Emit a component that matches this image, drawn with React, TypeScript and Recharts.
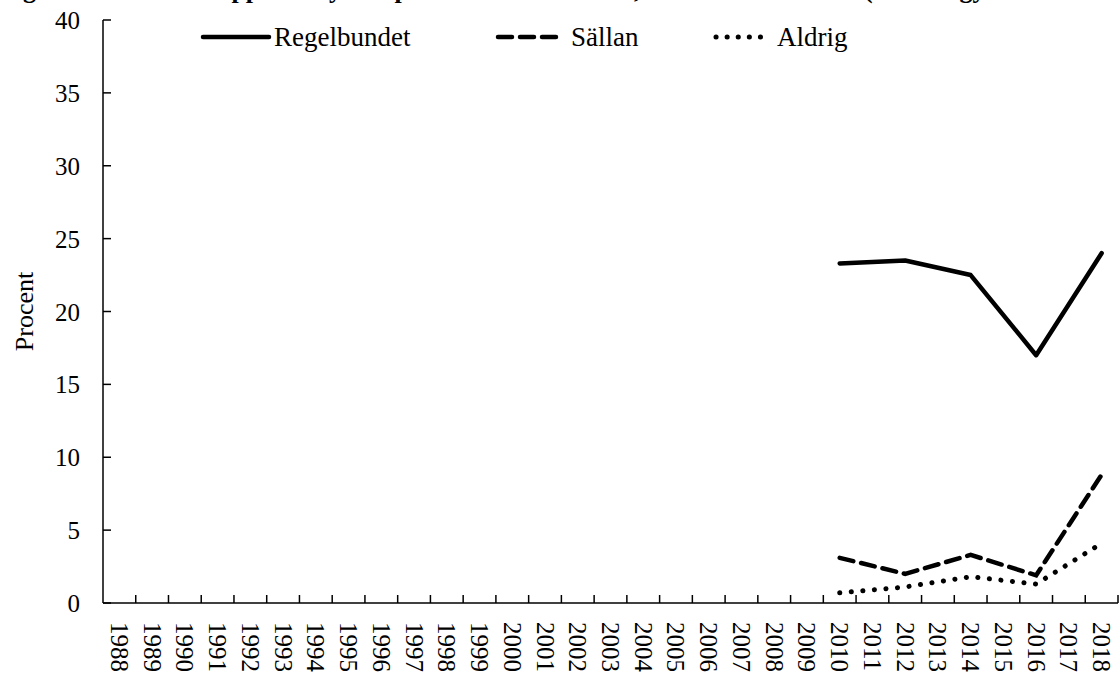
import React from 'react';
import { LineChart, Line, XAxis, YAxis } from 'recharts';

const yearLabels = [
  1988, 1989, 1990, 1991, 1992, 1993, 1994, 1995, 1996, 1997, 1998, 1999, 2000,
  2001, 2002, 2003, 2004, 2005, 2006, 2007, 2008, 2009, 2010, 2011, 2012, 2013,
  2014, 2015, 2016, 2017, 2018,
];
const surveyYears = [2010, 2012, 2014, 2016, 2018];
const regelbundet = [23.3, 23.5, 22.5, 17.0, 24.0];
const sallan = [3.1, 2.0, 3.3, 1.9, 8.8];
const aldrig = [0.7, 1.1, 1.8, 1.3, 4.1];
const yTicks = [0, 5, 10, 15, 20, 25, 30, 35, 40];

const data = surveyYears.map((year, i) => ({
  year,
  regelbundet: regelbundet[i],
  sallan: sallan[i],
  aldrig: aldrig[i],
}));

const W = 1119;
const H = 677;
const PLOT_LEFT = 103;
const PLOT_RIGHT = 1;
const BAND = (W - PLOT_LEFT - PLOT_RIGHT) / yearLabels.length;
const FONT = '"Liberation Serif", "Times New Roman", serif';

const XTick = (props: any) => {
  const { x, y, payload } = props;
  const bx = x + BAND / 2;
  return (
    <g>
      <line x1={bx} y1={y} x2={bx} y2={y - 8} stroke="#000" strokeWidth={1.5} />
      <text
        x={x}
        y={y + 19}
        transform={`rotate(90, ${x}, ${y + 19})`}
        textAnchor="start"
        dominantBaseline="central"
        fontFamily={FONT}
        fontSize={25}
        fill="#000"
      >
        {payload.value}
      </text>
    </g>
  );
};

const YTick = (props: any) => {
  const { x, y, payload } = props;
  return (
    <g>
      <line x1={x} y1={y} x2={x + 8} y2={y} stroke="#000" strokeWidth={1.5} />
      <text x={80} y={y + 9} textAnchor="end" fontFamily={FONT} fontSize={25} fill="#000">
        {payload.value}
      </text>
    </g>
  );
};

const legendItems = [
  { label: 'Regelbundet', dash: undefined as string | undefined, left: 200, width: 72, gap: 2 },
  { label: 'Sällan', dash: '14 8', left: 495, width: 68, gap: 8 },
  { label: 'Aldrig', dash: '0.1 11', left: 713, width: 60, gap: 4 },
];

export default function App() {
  return (
    <div style={{ position: 'absolute', left: 0, top: 0, width: W, height: H, overflow: 'hidden', background: '#fff' }}>
      <div
        style={{
          position: 'absolute',
          left: 0,
          top: -25,
          whiteSpace: 'nowrap',
          fontFamily: FONT,
          fontWeight: 'bold',
          fontSize: 26,
          lineHeight: '30px',
        }}
      >
        Figur 9. Andel som upplevt mycket problem med sömnen, efter motionsvanor (Flickor gymnasiet år 2, andel i procent)
      </div>
      <LineChart width={W} height={H} data={data} margin={{ top: 20, right: PLOT_RIGHT, bottom: 0, left: 0 }}>
        <XAxis
          type="number"
          dataKey="year"
          domain={[1987.5, 2018.5]}
          ticks={yearLabels}
          interval={0}
          height={74}
          tickSize={0}
          tickMargin={0}
          tickLine={false}
          tick={<XTick />}
          axisLine={{ stroke: '#000', strokeWidth: 1.5 }}
        />
        <YAxis
          domain={[0, 40]}
          ticks={yTicks}
          interval={0}
          width={PLOT_LEFT}
          tickSize={0}
          tickMargin={0}
          tickLine={false}
          tick={<YTick />}
          axisLine={{ stroke: '#000', strokeWidth: 1.5 }}
          label={{
            value: 'Procent',
            angle: -90,
            position: 'insideLeft',
            offset: 24,
            style: { fontFamily: FONT, fontSize: 26, fill: '#000', textAnchor: 'middle' },
          }}
        />
        <Line
          dataKey="regelbundet"
          stroke="#000"
          strokeWidth={4.5}
          strokeLinecap="round"
          strokeLinejoin="round"
          dot={false}
          activeDot={false}
          isAnimationActive={false}
        />
        <Line
          dataKey="sallan"
          stroke="#000"
          strokeWidth={4.5}
          strokeDasharray="14 8"
          strokeLinecap="round"
          dot={false}
          activeDot={false}
          isAnimationActive={false}
        />
        <Line
          dataKey="aldrig"
          stroke="#000"
          strokeWidth={5}
          strokeDasharray="0.1 11.5"
          strokeLinecap="round"
          dot={false}
          activeDot={false}
          isAnimationActive={false}
        />
      </LineChart>
      {legendItems.map((item) => (
        <div
          key={item.label}
          style={{
            position: 'absolute',
            left: item.left,
            top: 20,
            display: 'flex',
            alignItems: 'center',
            fontFamily: FONT,
            fontSize: 27,
            lineHeight: '34px',
          }}
        >
          <svg width={item.width} height={34} style={{ display: 'block' }}>
            <line
              x1={3}
              y1={17}
              x2={item.width - 3}
              y2={17}
              stroke="#000"
              strokeWidth={item.dash === '0.1 11' ? 5 : 4.5}
              strokeDasharray={item.dash}
              strokeLinecap="round"
            />
          </svg>
          <span style={{ marginLeft: item.gap }}>{item.label}</span>
        </div>
      ))}
    </div>
  );
}
